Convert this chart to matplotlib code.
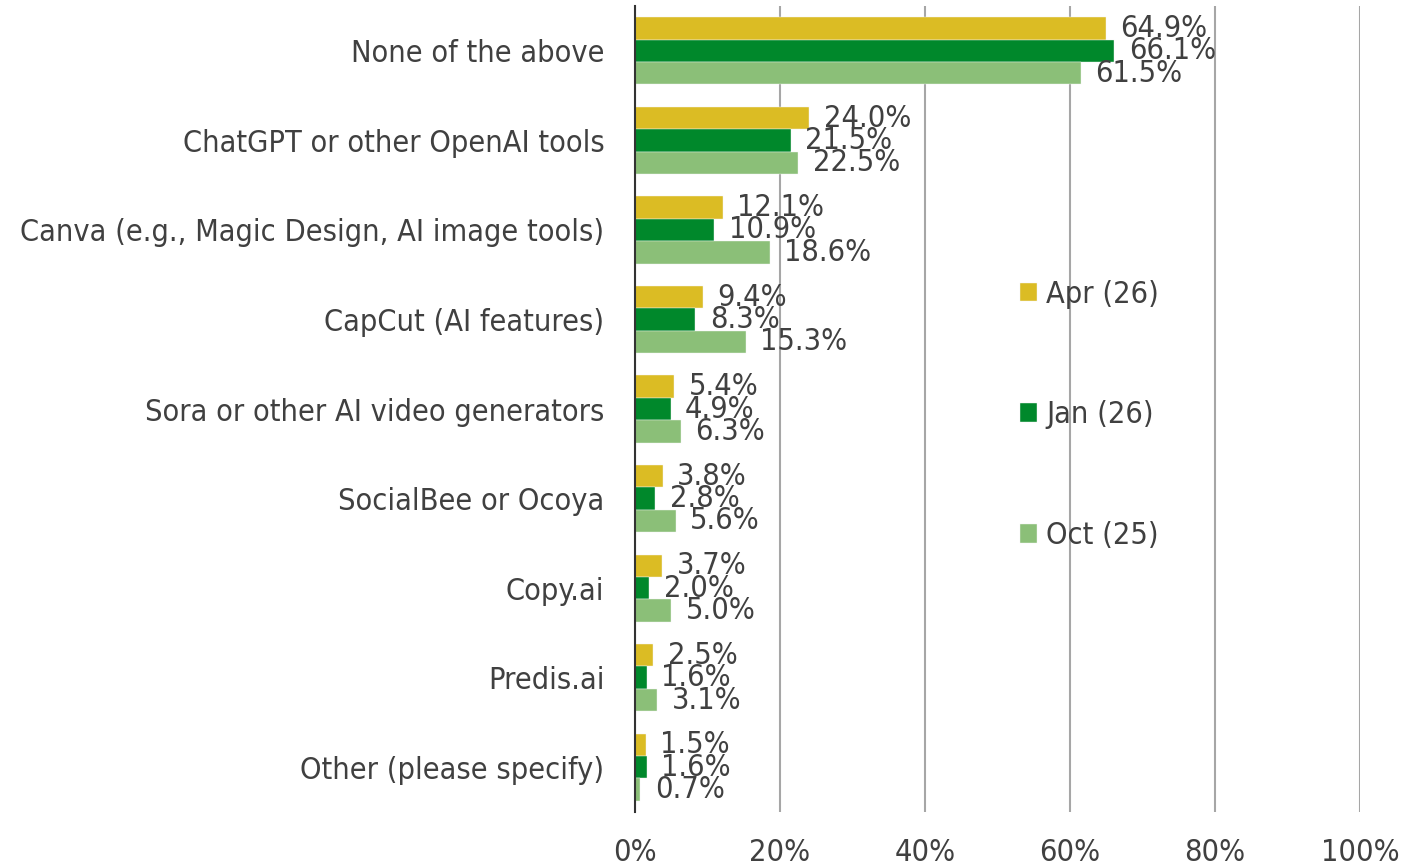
import matplotlib
matplotlib.use("Agg")
import numpy as np
import matplotlib.pyplot as plt
from matplotlib import font_manager

# ── data ──────────────────────────────────────────────
categories = [
    "None of the above",
    "ChatGPT or other OpenAI tools",
    "Canva (e.g., Magic Design, AI image tools)",
    "CapCut (AI features)",
    "Sora or other AI video generators",
    "SocialBee or Ocoya",
    "Copy.ai",
    "Predis.ai",
    "Other (please specify)",
]
series_names = ["Apr (26)", "Jan (26)", "Oct (25)"]
apr_26 = [64.9, 24.0, 12.1, 9.4, 5.4, 3.8, 3.7, 2.5, 1.5]
jan_26 = [66.1, 21.5, 10.9, 8.3, 4.9, 2.8, 2.0, 1.6, 1.6]
oct_25 = [61.5, 22.5, 18.6, 15.3, 6.3, 5.6, 5.0, 3.1, 0.7]
x_ticks = [0, 20, 40, 60, 80, 100]

colors = ["#DBBC24", "#00882B", "#8BBF78"]
text_color = "#404040"

# Tahoma-like width: try condensed DejaVu, otherwise plain DejaVu a bit smaller
cond = font_manager.FontProperties(family="DejaVu Sans", stretch="condensed")
cond_file = font_manager.findfont(cond, fallback_to_default=True)
plt.rcParams["font.family"] = ["DejaVu Sans"]
if "Condensed" in cond_file:
    plt.rcParams["font.stretch"] = "condensed"
    fs = 22
else:
    fs = 19

fig = plt.figure(figsize=(14.18, 8.68), dpi=100)
ax = fig.add_axes([0.4478, 0.0645, 0.5113, 0.9285])

y = np.arange(len(categories))
bar_h = 0.25
offsets = [-bar_h, 0.0, bar_h]

for vals, off, col, name in zip([apr_26, jan_26, oct_25], offsets, colors, series_names):
    bars = ax.barh(y + off, vals, height=bar_h, color=col, edgecolor="#F4F4F4",
                   linewidth=0.3, label=name, zorder=2)
    for b, v in zip(bars, vals):
        ax.annotate(f"{v:.1f}%", (b.get_width(), b.get_y() + b.get_height() / 2),
                    xytext=(10.5, 0), textcoords="offset points",
                    va="center", ha="left", fontsize=fs, color=text_color, zorder=3)

ax.set_xlim(0, 100)
ax.set_ylim(len(categories) - 0.5, -0.5)
ax.set_xticks(x_ticks)
ax.set_xticklabels([f"{t}%" for t in x_ticks], fontsize=fs, color=text_color)
ax.set_yticks(y)
ax.set_yticklabels(categories, fontsize=fs, color=text_color)
ax.tick_params(axis="x", length=0, pad=19)
ax.tick_params(axis="y", length=0, pad=22)

ax.grid(axis="x", color="#A6A6A6", linewidth=1.5, zorder=0)
ax.set_axisbelow(True)
for s in ["top", "right", "bottom"]:
    ax.spines[s].set_visible(False)
ax.spines["left"].set_color("#333333")
ax.spines["left"].set_linewidth(1.5)
ax.spines["left"].set_zorder(4)

leg = fig.legend(loc="center left", bbox_to_anchor=(1020 / 1418, 1 - 415 / 868),
                 frameon=False, fontsize=fs, labelspacing=3.0, handlelength=0.55,
                 handleheight=0.55, handletextpad=0.3, borderpad=0, borderaxespad=0)
for t in leg.get_texts():
    t.set_color(text_color)

fig.savefig("out.png", dpi=100)
